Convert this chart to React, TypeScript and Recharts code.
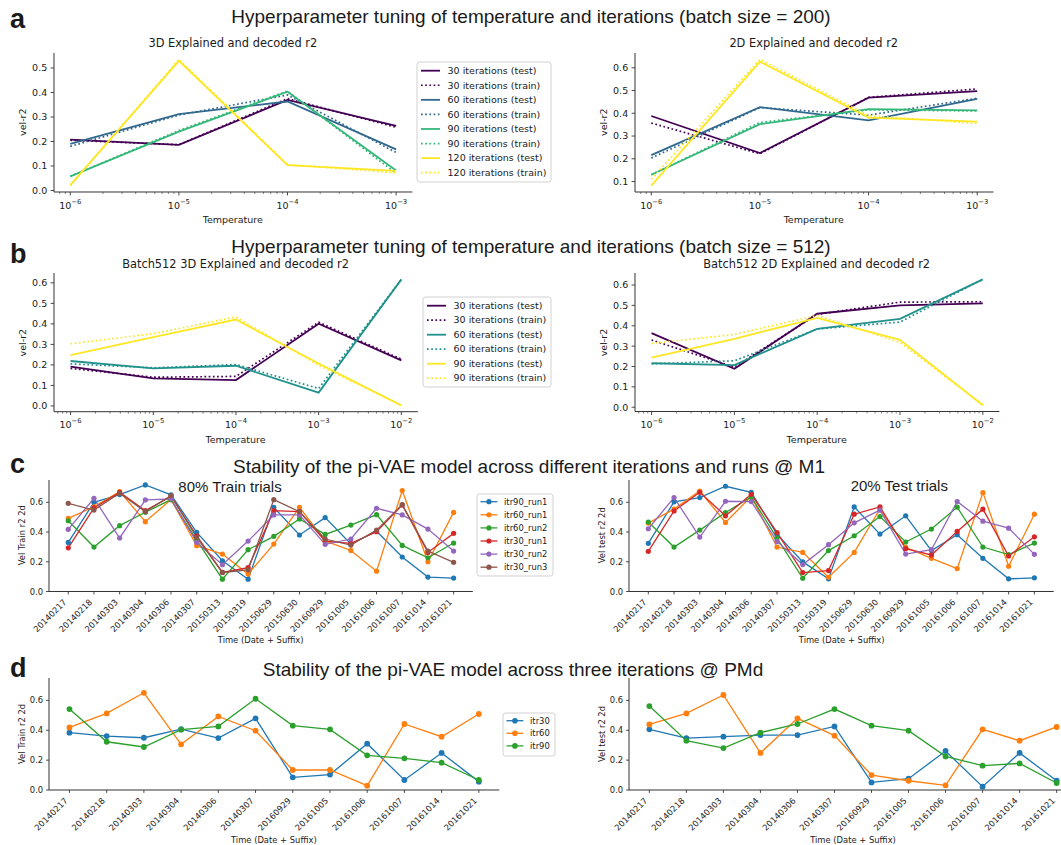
import React from 'react';
import { LineChart, Line, XAxis, YAxis } from 'recharts';

// ---------------- data ----------------
const TEMPS_A = [1e-6, 1e-5, 1e-4, 1e-3];
const TEMPS_B = [1e-6, 1e-5, 1e-4, 1e-3, 1e-2];

const A_LABELS = [
  '30 iterations (test)', '30 iterations (train)',
  '60 iterations (test)', '60 iterations (train)',
  '90 iterations (test)', '90 iterations (train)',
  '120 iterations (test)', '120 iterations (train)',
];
const B_LABELS = [
  '30 iterations (test)', '30 iterations (train)',
  '60 iterations (test)', '60 iterations (train)',
  '90 iterations (test)', '90 iterations (train)',
];

// a: 3D, batch 200
const A3D_IT30_TEST = [0.208, 0.186, 0.370, 0.264];
const A3D_IT30_TRAIN = [0.205, 0.187, 0.375, 0.258];
const A3D_IT60_TEST = [0.190, 0.312, 0.363, 0.168];
const A3D_IT60_TRAIN = [0.180, 0.308, 0.390, 0.155];
const A3D_IT90_TEST = [0.058, 0.240, 0.403, 0.082];
const A3D_IT90_TRAIN = [0.058, 0.245, 0.406, 0.070];
const A3D_IT120_TEST = [0.022, 0.529, 0.104, 0.080];
const A3D_IT120_TRAIN = [0.020, 0.535, 0.106, 0.072];

// a: 2D, batch 200
const A2D_IT30_TEST = [0.388, 0.225, 0.469, 0.497];
const A2D_IT30_TRAIN = [0.357, 0.222, 0.470, 0.507];
const A2D_IT60_TEST = [0.216, 0.427, 0.369, 0.463];
const A2D_IT60_TRAIN = [0.203, 0.425, 0.392, 0.466];
const A2D_IT90_TEST = [0.130, 0.352, 0.418, 0.413];
const A2D_IT90_TRAIN = [0.130, 0.360, 0.415, 0.410];
const A2D_IT120_TEST = [0.082, 0.627, 0.381, 0.363];
const A2D_IT120_TRAIN = [0.110, 0.637, 0.390, 0.355];

// b: 3D, batch 512
const B3D_IT30_TEST = [0.192, 0.134, 0.126, 0.401, 0.222];
const B3D_IT30_TRAIN = [0.183, 0.140, 0.144, 0.408, 0.228];
const B3D_IT60_TEST = [0.219, 0.183, 0.196, 0.065, 0.617];
const B3D_IT60_TRAIN = [0.205, 0.186, 0.202, 0.085, 0.617];
const B3D_IT90_TEST = [0.248, 0.335, 0.421, 0.207, 0.003];
const B3D_IT90_TRAIN = [0.303, 0.352, 0.434, 0.198, 0.003];

// b: 2D, batch 512
const B2D_IT30_TEST = [0.364, 0.189, 0.459, 0.500, 0.510];
const B2D_IT30_TRAIN = [0.330, 0.197, 0.456, 0.516, 0.518];
const B2D_IT60_TEST = [0.216, 0.207, 0.385, 0.434, 0.628];
const B2D_IT60_TRAIN = [0.213, 0.228, 0.384, 0.418, 0.628];
const B2D_IT90_TEST = [0.243, 0.336, 0.439, 0.331, 0.010];
const B2D_IT90_TRAIN = [0.313, 0.357, 0.451, 0.318, 0.012];

// c: M1
const C_DATES = ['20140217', '20140218', '20140303', '20140304', '20140306', '20140307', '20150313', '20150319',
  '20150629', '20150630', '20160929', '20161005', '20161006', '20161007', '20161014', '20161021'];
const C_NAMES = ['itr90_run1', 'itr60_run1', 'itr60_run2', 'itr30_run1', 'itr30_run2', 'itr30_run3'];

const C_TRAIN_ITR90_RUN1 = [0.330, 0.600, 0.652, 0.717, 0.650, 0.398, 0.207, 0.083, 0.566, 0.380, 0.497, 0.319, 0.405, 0.232, 0.097, 0.090];
const C_TRAIN_ITR60_RUN1 = [0.492, 0.570, 0.672, 0.470, 0.618, 0.308, 0.252, 0.117, 0.319, 0.566, 0.340, 0.276, 0.137, 0.679, 0.200, 0.532];
const C_TRAIN_ITR60_RUN2 = [0.476, 0.299, 0.443, 0.533, 0.618, 0.346, 0.083, 0.281, 0.371, 0.488, 0.384, 0.447, 0.517, 0.310, 0.227, 0.326];
const C_TRAIN_ITR30_RUN1 = [0.294, 0.562, 0.667, 0.544, 0.640, 0.375, 0.128, 0.160, 0.544, 0.537, 0.339, 0.324, 0.402, 0.582, 0.263, 0.391];
const C_TRAIN_ITR30_RUN2 = [0.418, 0.627, 0.360, 0.616, 0.622, 0.330, 0.180, 0.339, 0.515, 0.515, 0.317, 0.353, 0.560, 0.515, 0.420, 0.272];
const C_TRAIN_ITR30_RUN3 = [0.593, 0.548, 0.661, 0.537, 0.645, 0.364, 0.128, 0.146, 0.618, 0.537, 0.353, 0.312, 0.413, 0.584, 0.272, 0.196];

const C_TEST_ITR90_RUN1 = [0.324, 0.603, 0.632, 0.708, 0.667, 0.386, 0.199, 0.085, 0.569, 0.386, 0.509, 0.275, 0.382, 0.223, 0.085, 0.092];
const C_TEST_ITR60_RUN1 = [0.460, 0.554, 0.676, 0.464, 0.640, 0.299, 0.263, 0.096, 0.263, 0.555, 0.297, 0.223, 0.154, 0.665, 0.170, 0.520];
const C_TEST_ITR60_RUN2 = [0.467, 0.299, 0.413, 0.531, 0.636, 0.359, 0.089, 0.275, 0.375, 0.504, 0.333, 0.420, 0.567, 0.299, 0.248, 0.326];
const C_TEST_ITR30_RUN1 = [0.270, 0.542, 0.667, 0.509, 0.654, 0.397, 0.127, 0.141, 0.520, 0.569, 0.288, 0.246, 0.404, 0.554, 0.239, 0.368];
const C_TEST_ITR30_RUN2 = [0.422, 0.632, 0.366, 0.607, 0.605, 0.337, 0.181, 0.315, 0.462, 0.547, 0.252, 0.281, 0.605, 0.473, 0.426, 0.250];

// d: PMd
const D_DATES = ['20140217', '20140218', '20140303', '20140304', '20140306', '20140307', '20160929', '20161005',
  '20161006', '20161007', '20161014', '20161021'];
const D_NAMES = ['itr30', 'itr60', 'itr90'];

const D_TRAIN_ITR30 = [0.384, 0.361, 0.350, 0.408, 0.348, 0.480, 0.085, 0.103, 0.310, 0.067, 0.248, 0.056];
const D_TRAIN_ITR60 = [0.419, 0.513, 0.651, 0.306, 0.493, 0.397, 0.134, 0.134, 0.029, 0.442, 0.357, 0.509];
const D_TRAIN_ITR90 = [0.542, 0.323, 0.288, 0.404, 0.426, 0.611, 0.431, 0.406, 0.232, 0.212, 0.183, 0.067];

const D_TEST_ITR30 = [0.406, 0.348, 0.357, 0.368, 0.368, 0.426, 0.051, 0.076, 0.261, 0.022, 0.248, 0.062];
const D_TEST_ITR60 = [0.439, 0.513, 0.636, 0.248, 0.480, 0.364, 0.100, 0.062, 0.031, 0.406, 0.330, 0.422];
const D_TEST_ITR90 = [0.562, 0.330, 0.281, 0.384, 0.442, 0.542, 0.431, 0.397, 0.225, 0.163, 0.178, 0.047];

// ---------------- style ----------------
const DJ = '"DejaVu Sans", Verdana, sans-serif';
const AR = '"Liberation Sans", Arial, Helvetica, sans-serif';
const INK = '#1a1a1a';
const SPINE = '#333333';
const VIR4 = ['#440154', '#31688e', '#35b779', '#fde725'];
const VIR3 = ['#440154', '#21918c', '#fde725'];
const TAB = ['#1f77b4', '#ff7f0e', '#2ca02c', '#d62728', '#9467bd', '#8c564b'];
const DOTS = '1.7 2.5';

// ---------------- helpers ----------------
const buildRows = (xs: number[], cols: number[][]) =>
  xs.map((x, i) => {
    const r: any = { x };
    cols.forEach((c, j) => { r['s' + j] = c[i]; });
    return r;
  });

const pairSeries = (colors: string[]) =>
  colors.flatMap((c, i) => [
    { key: 's' + 2 * i, color: c, width: 1.8, dash: undefined as string | undefined },
    { key: 's' + (2 * i + 1), color: c, width: 1.7, dash: DOTS },
  ]);

const markerSeries = (n: number, r: number) =>
  TAB.slice(0, n).map((c, i) => ({ key: 's' + i, color: c, width: 1.3, dash: undefined as string | undefined, dot: r }));

const logTicks = (lo: number, hi: number) => {
  const out: number[] = [];
  for (let e = -7; e <= -1; e++) {
    for (let k = 1; k <= 9; k++) {
      const v = k * Math.pow(10, e);
      if (v >= lo && v <= hi) out.push(v);
    }
  }
  return out;
};

const range = (n: number) => Array.from({ length: n }, (_, i) => i);

// ---------------- ticks ----------------
const LogTick = (p: any) => {
  const { x, y, payload } = p;
  const lg = Math.log10(payload.value);
  const e = Math.round(lg);
  const major = Math.abs(lg - e) < 1e-6;
  if (!major) {
    return <line x1={x} x2={x} y1={y} y2={y + 2} stroke={SPINE} strokeWidth={0.6} />;
  }
  return (
    <g>
      <line x1={x} x2={x} y1={y} y2={y + 3.4} stroke={SPINE} strokeWidth={0.9} />
      <text x={x} y={y + 16.6} textAnchor="middle" fontFamily={DJ} fontSize={9.5} fill={INK}>
        <tspan>10</tspan>
        <tspan dy={-5} fontSize={6.8}>{'\u2212' + String(-e)}</tspan>
      </text>
    </g>
  );
};

const makeYTick = (fs: number, len: number, gap: number) => (p: any) => {
  const { x, y, payload } = p;
  return (
    <g>
      <line x1={x - len} x2={x} y1={y} y2={y} stroke={SPINE} strokeWidth={0.9} />
      <text x={x - len - gap} y={y} dy="0.36em" textAnchor="end" fontFamily={DJ} fontSize={fs} fill={INK}>
        {Number(payload.value).toFixed(1)}
      </text>
    </g>
  );
};

const makeDateTick = (labels: string[]) => (p: any) => {
  const { x, y, payload } = p;
  const ax = x - 1.2;
  const ay = y + 11.2;
  return (
    <g>
      <line x1={x} x2={x} y1={y} y2={y + 2.9} stroke={SPINE} strokeWidth={0.9} />
      <text x={ax} y={ay} textAnchor="end" transform={`rotate(-45 ${ax} ${ay})`} fontFamily={DJ} fontSize={8.4} fill={INK}>
        {labels[payload.value]}
      </text>
    </g>
  );
};

const YTICK_AB = makeYTick(9.5, 3.4, 3.4);
const YTICK_CD = makeYTick(8.4, 2.9, 2.9);
const C_TICK = makeDateTick(C_DATES);
const D_TICK = makeDateTick(D_DATES);

// ---------------- chart ----------------
type Rect = { x1: number; y1: number; x2: number; y2: number };
const PAD = 8;

function Chart(props: {
  rect: Rect; yw: number; xh: number; data: any[];
  xDomain: number[]; xTicks: number[]; xScale: any; xTick: any;
  yDomain: number[]; yTicks: number[]; yTick: any; series: any[];
}) {
  const { rect, yw, xh, data, xDomain, xTicks, xScale, xTick, yDomain, yTicks, yTick, series } = props;
  const width = rect.x2 - rect.x1 + yw + PAD;
  const height = rect.y2 - rect.y1 + PAD + xh;
  return (
    <div style={{ position: 'absolute', left: rect.x1 - yw, top: rect.y1 - PAD }}>
      <LineChart width={width} height={height} data={data} margin={{ top: PAD, right: PAD, bottom: 0, left: 0 }}>
        <XAxis dataKey="x" type="number" scale={xScale} domain={xDomain} ticks={xTicks} allowDataOverflow interval={0}
          tick={xTick} tickLine={false} tickSize={0} tickMargin={0} height={xh}
          axisLine={{ stroke: SPINE, strokeWidth: 1 }} />
        <YAxis type="number" domain={yDomain} ticks={yTicks} allowDataOverflow interval={0}
          tick={yTick} tickLine={false} tickSize={0} tickMargin={0} width={yw}
          axisLine={{ stroke: SPINE, strokeWidth: 1 }} />
        {series.map((s: any) => (
          <Line key={s.key} dataKey={s.key} type="linear" stroke={s.color} strokeWidth={s.width}
            strokeDasharray={s.dash}
            dot={s.dot ? { r: s.dot, fill: s.color, stroke: s.color, strokeWidth: 0 } : false}
            activeDot={false} isAnimationActive={false} />
        ))}
      </LineChart>
    </div>
  );
}

// ---------------- overlay texts ----------------
function LegendBox(props: { x: number; y: number; w: number; h: number; fs: number; y0: number; pitch: number; items: any[] }) {
  const { x, y, w, h, fs, y0, pitch, items } = props;
  const hx = x + 0.42 * fs;
  const hl = 2 * fs;
  return (
    <g>
      <rect x={x} y={y} width={w} height={h} rx={2.5} fill="#fff" fillOpacity={0.85} stroke="#cccccc" strokeWidth={0.9} />
      {items.map((it: any, i: number) => {
        const cy = y0 + i * pitch;
        return (
          <g key={i}>
            <line x1={hx} x2={hx + hl} y1={cy} y2={cy} stroke={it.color} strokeWidth={it.width} strokeDasharray={it.dash} />
            {it.dot ? <circle cx={hx + hl / 2} cy={cy} r={it.dot} fill={it.color} /> : null}
            <text x={hx + hl + 0.8 * fs} y={cy} dy="0.34em" fontFamily={DJ} fontSize={fs} fill={INK}>{it.label}</text>
          </g>
        );
      })}
    </g>
  );
}

const T = (p: any) => (
  <text x={p.x} y={p.y} textAnchor={p.anchor || 'middle'} fontFamily={p.ff || DJ} fontSize={p.fs}
    fontWeight={p.fw || 'normal'} fill={INK} transform={p.rot ? `rotate(-90 ${p.x} ${p.y})` : undefined}
    dy={p.rot ? '0.35em' : undefined}>
    {p.children}
  </text>
);

// ---------------- layout ----------------
const R_A_L: Rect = { x1: 53.6, y1: 52.7, x2: 412, y2: 191.7 };
const R_A_R: Rect = { x1: 634.5, y1: 52.7, x2: 993, y2: 191.7 };
const R_B_L: Rect = { x1: 53.6, y1: 273.3, x2: 417.5, y2: 412 };
const R_B_R: Rect = { x1: 634.5, y1: 273.3, x2: 998.9, y2: 411.8 };
const R_C_L: Rect = { x1: 48.7, y1: 479.5, x2: 472.6, y2: 591 };
const R_C_R: Rect = { x1: 629.3, y1: 479.5, x2: 1054, y2: 591 };
const R_D_L: Rect = { x1: 48.7, y1: 678, x2: 499, y2: 790 };
const R_D_R: Rect = { x1: 629, y1: 678, x2: 1077, y2: 790 };

const A_XDOM = [Math.pow(10, -6.15), Math.pow(10, -2.85)];
const B_XDOM = [Math.pow(10, -6.2), Math.pow(10, -1.8)];

const SUP = 19;

export default function App() {
  const a3d = buildRows(TEMPS_A, [A3D_IT30_TEST, A3D_IT30_TRAIN, A3D_IT60_TEST, A3D_IT60_TRAIN, A3D_IT90_TEST, A3D_IT90_TRAIN, A3D_IT120_TEST, A3D_IT120_TRAIN]);
  const a2d = buildRows(TEMPS_A, [A2D_IT30_TEST, A2D_IT30_TRAIN, A2D_IT60_TEST, A2D_IT60_TRAIN, A2D_IT90_TEST, A2D_IT90_TRAIN, A2D_IT120_TEST, A2D_IT120_TRAIN]);
  const b3d = buildRows(TEMPS_B, [B3D_IT30_TEST, B3D_IT30_TRAIN, B3D_IT60_TEST, B3D_IT60_TRAIN, B3D_IT90_TEST, B3D_IT90_TRAIN]);
  const b2d = buildRows(TEMPS_B, [B2D_IT30_TEST, B2D_IT30_TRAIN, B2D_IT60_TEST, B2D_IT60_TRAIN, B2D_IT90_TEST, B2D_IT90_TRAIN]);
  const cTrain = buildRows(range(C_DATES.length), [C_TRAIN_ITR90_RUN1, C_TRAIN_ITR60_RUN1, C_TRAIN_ITR60_RUN2, C_TRAIN_ITR30_RUN1, C_TRAIN_ITR30_RUN2, C_TRAIN_ITR30_RUN3]);
  const cTest = buildRows(range(C_DATES.length), [C_TEST_ITR90_RUN1, C_TEST_ITR60_RUN1, C_TEST_ITR60_RUN2, C_TEST_ITR30_RUN1, C_TEST_ITR30_RUN2]);
  const dTrain = buildRows(range(D_DATES.length), [D_TRAIN_ITR30, D_TRAIN_ITR60, D_TRAIN_ITR90]);
  const dTest = buildRows(range(D_DATES.length), [D_TEST_ITR30, D_TEST_ITR60, D_TEST_ITR90]);

  const aSeries = pairSeries(VIR4);
  const bSeries = pairSeries(VIR3);
  const aLegend = aSeries.map((s, i) => ({ ...s, label: A_LABELS[i] }));
  const bLegend = bSeries.map((s, i) => ({ ...s, label: B_LABELS[i] }));
  const cLegend = markerSeries(6, 2.6).map((s, i) => ({ ...s, label: C_NAMES[i] }));
  const dLegend = markerSeries(3, 2.8).map((s, i) => ({ ...s, label: D_NAMES[i] }));

  const aTicks = logTicks(A_XDOM[0], A_XDOM[1]);
  const bTicks = logTicks(B_XDOM[0], B_XDOM[1]);
  const cd = [0, 0.2, 0.4, 0.6];

  return (
    <div style={{ position: 'absolute', left: 0, top: 0, width: 1061, height: 845, overflow: 'hidden', background: '#fff' }}>
      <Chart rect={R_A_L} yw={40} xh={26} data={a3d} xDomain={A_XDOM} xTicks={aTicks} xScale="log" xTick={LogTick}
        yDomain={[-0.006, 0.561]} yTicks={[0, 0.1, 0.2, 0.3, 0.4, 0.5]} yTick={YTICK_AB} series={aSeries} />
      <Chart rect={R_A_R} yw={40} xh={26} data={a2d} xDomain={A_XDOM} xTicks={aTicks} xScale="log" xTick={LogTick}
        yDomain={[0.054, 0.665]} yTicks={[0.1, 0.2, 0.3, 0.4, 0.5, 0.6]} yTick={YTICK_AB} series={aSeries} />
      <Chart rect={R_B_L} yw={40} xh={26} data={b3d} xDomain={B_XDOM} xTicks={bTicks} xScale="log" xTick={LogTick}
        yDomain={[-0.028, 0.648]} yTicks={[0, 0.1, 0.2, 0.3, 0.4, 0.5, 0.6]} yTick={YTICK_AB} series={bSeries} />
      <Chart rect={R_B_R} yw={40} xh={26} data={b2d} xDomain={B_XDOM} xTicks={bTicks} xScale="log" xTick={LogTick}
        yDomain={[-0.021, 0.659]} yTicks={[0, 0.1, 0.2, 0.3, 0.4, 0.5, 0.6]} yTick={YTICK_AB} series={bSeries} />
      <Chart rect={R_C_L} yw={36} xh={46} data={cTrain} xDomain={[-0.75, 15.75]} xTicks={range(16)} xScale="linear" xTick={C_TICK}
        yDomain={[0, 0.75]} yTicks={cd} yTick={YTICK_CD} series={markerSeries(6, 2.6)} />
      <Chart rect={R_C_R} yw={36} xh={46} data={cTest} xDomain={[-0.75, 15.75]} xTicks={range(16)} xScale="linear" xTick={C_TICK}
        yDomain={[0, 0.75]} yTicks={cd} yTick={YTICK_CD} series={markerSeries(5, 2.6)} />
      <Chart rect={R_D_L} yw={36} xh={46} data={dTrain} xDomain={[-0.55, 11.55]} xTicks={range(12)} xScale="linear" xTick={D_TICK}
        yDomain={[0, 0.75]} yTicks={cd} yTick={YTICK_CD} series={markerSeries(3, 2.9)} />
      <Chart rect={R_D_R} yw={36} xh={46} data={dTest} xDomain={[-0.55, 11.55]} xTicks={range(12)} xScale="linear" xTick={D_TICK}
        yDomain={[0, 0.75]} yTicks={cd} yTick={YTICK_CD} series={markerSeries(3, 2.9)} />

      <svg width={1061} height={845} style={{ position: 'absolute', left: 0, top: 0, pointerEvents: 'none' }}>
        {/* panel letters */}
        <T x={10} y={28} anchor="start" ff={AR} fs={27} fw="bold">a</T>
        <T x={10} y={263} anchor="start" ff={AR} fs={27} fw="bold">b</T>
        <T x={10} y={473} anchor="start" ff={AR} fs={27} fw="bold">c</T>
        <T x={10} y={677} anchor="start" ff={AR} fs={27} fw="bold">d</T>

        {/* suptitles */}
        <T x={531} y={22.5} ff={AR} fs={SUP}>Hyperparameter tuning of temperature and iterations (batch size = 200)</T>
        <T x={531} y={253} ff={AR} fs={SUP}>Hyperparameter tuning of temperature and iterations (batch size = 512)</T>
        <T x={529} y={473} ff={AR} fs={SUP}>Stability of the pi-VAE model across different iterations and runs @ M1</T>
        <T x={513} y={676} ff={AR} fs={SUP}>Stability of the pi-VAE model across three iterations @ PMd</T>

        {/* subplot titles */}
        <T x={(R_A_L.x1 + R_A_L.x2) / 2} y={47} fs={11.4}>3D Explained and decoded r2</T>
        <T x={(R_A_R.x1 + R_A_R.x2) / 2} y={47} fs={11.4}>2D Explained and decoded r2</T>
        <T x={(R_B_L.x1 + R_B_L.x2) / 2} y={267.5} fs={11.4}>Batch512 3D Explained and decoded r2</T>
        <T x={(R_B_R.x1 + R_B_R.x2) / 2} y={267.5} fs={11.4}>Batch512 2D Explained and decoded r2</T>

        {/* axis labels a/b */}
        <T x={(R_A_L.x1 + R_A_L.x2) / 2} y={222.5} fs={9.5}>Temperature</T>
        <T x={(R_A_R.x1 + R_A_R.x2) / 2} y={222.5} fs={9.5}>Temperature</T>
        <T x={(R_B_L.x1 + R_B_L.x2) / 2} y={442.8} fs={9.5}>Temperature</T>
        <T x={(R_B_R.x1 + R_B_R.x2) / 2} y={442.8} fs={9.5}>Temperature</T>
        <T x={22.7} y={(R_A_L.y1 + R_A_L.y2) / 2} fs={9.5} rot>vel-r2</T>
        <T x={603.3} y={(R_A_R.y1 + R_A_R.y2) / 2} fs={9.5} rot>vel-r2</T>
        <T x={22.7} y={(R_B_L.y1 + R_B_L.y2) / 2} fs={9.5} rot>vel-r2</T>
        <T x={603.3} y={(R_B_R.y1 + R_B_R.y2) / 2} fs={9.5} rot>vel-r2</T>

        {/* axis labels c/d */}
        <T x={(R_C_L.x1 + R_C_L.x2) / 2} y={643} fs={8.4}>Time (Date + Suffix)</T>
        <T x={(R_C_R.x1 + R_C_R.x2) / 2} y={643} fs={8.4}>Time (Date + Suffix)</T>
        <T x={(R_D_L.x1 + R_D_L.x2) / 2} y={842.5} fs={8.4}>Time (Date + Suffix)</T>
        <T x={(R_D_R.x1 + R_D_R.x2) / 2} y={842.5} fs={8.4}>Time (Date + Suffix)</T>
        <T x={21.7} y={(R_C_L.y1 + R_C_L.y2) / 2} fs={8.4} rot>Vel Train r2 2d</T>
        <T x={601.7} y={(R_C_R.y1 + R_C_R.y2) / 2} fs={8.4} rot>Vel test r2 2d</T>
        <T x={21.7} y={(R_D_L.y1 + R_D_L.y2) / 2} fs={8.4} rot>Vel Train r2 2d</T>
        <T x={601.7} y={(R_D_R.y1 + R_D_R.y2) / 2} fs={8.4} rot>Vel test r2 2d</T>

        {/* in-axes annotations */}
        <T x={178.3} y={491.5} anchor="start" ff={AR} fs={15}>80% Train trials</T>
        <T x={850.7} y={490.5} anchor="start" ff={AR} fs={15}>20% Test trials</T>

        {/* legends */}
        <LegendBox x={417} y={62} w={134} h={120} fs={9.5} y0={70.7} pitch={14.57} items={aLegend} />
        <LegendBox x={423} y={297} w={128} h={90} fs={9.5} y0={305.7} pitch={14.5} items={bLegend} />
        <LegendBox x={477} y={494} w={76} h={82} fs={8.4} y0={501.7} pitch={13.1} items={cLegend} />
        <LegendBox x={503} y={713} w={52} h={43} fs={8.4} y0={720.7} pitch={12.6} items={dLegend} />
      </svg>
    </div>
  );
}
